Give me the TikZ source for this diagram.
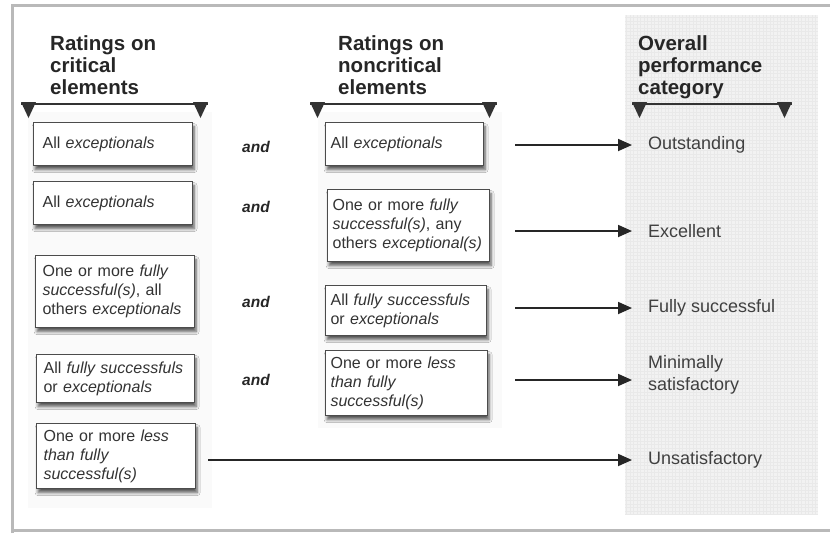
\documentclass[tikz,border=0pt]{standalone}
\usepackage{fontspec}
\setmainfont{Liberation Sans}
\usetikzlibrary{arrows.meta,shadows.blur}
\begin{document}
\begin{tikzpicture}[x=1pt,y=-1pt,
  box/.style={draw=black!70, line width=1.2pt, fill=white, anchor=north west, align=left,
    inner ysep=0pt, font=\fontsize{16}{19}\selectfont, text=black!80,
    blur shadow={shadow xshift=1.5pt, shadow yshift=-4pt, shadow opacity=65, shadow blur steps=6, shadow blur radius=3pt}},
  arr/.style={line width=1.8pt, draw=black!85, -{Triangle[length=14pt,width=12pt]}},
  andlab/.style={font=\fontsize{15.5}{18}\selectfont\bfseries\itshape, text=black!85},
  outlab/.style={anchor=west, inner xsep=16pt, align=left, font=\fontsize{18}{22}\selectfont, text=black!75},
  head/.style={anchor=north west, inner sep=0pt, align=left, font=\fontsize{20.5}{22}\selectfont\bfseries, text=black!85},
  bracket/.style={line width=2pt, draw=black!80},
  tip/.style={fill=black!80}
]
\useasboundingbox (0,0) rectangle (830,533);
% outer frame
\draw[gray!55, line width=3pt] (12,533) -- (12,5.5) -- (830,5.5);
\draw[gray!55, line width=2.5pt] (12,530.5) -- (830,530.5);
% column backgrounds
\fill[gray!4] (28,112) rectangle (212,508);
\fill[gray!4] (318,112) rectangle (502,428);
\fill[gray!10] (625,15) rectangle (818,515);
\draw[gray!17, line width=0.4pt, step=3.5pt] (625,15) grid (818,515);
% headers
\node[head] (h1) at (50,35) {Ratings on\\critical\\elements};
\node[head] (h2) at (338,35) {Ratings on\\noncritical\\elements};
\node[head] (h3) at (638,35) {Overall\\performance\\category};
% brackets
\foreach \xl/\xr in {21/208, 310/497, 632/792}{
  \draw[bracket] (\xl,104) -- (\xr,104);
  \fill[tip] (\xl,102) -- (\xl+15,102) -- (\xl+7.5,118) -- cycle;
  \fill[tip] (\xr-15,102) -- (\xr,102) -- (\xr-7.5,118) -- cycle;
}
% critical boxes
\node[box, inner xsep=9pt, text width=141pt, minimum height=43pt] (c1) at (33,122) {All \textit{exceptionals}};
\node[box, inner xsep=9pt, text width=141pt, minimum height=43pt] (c2) at (33,181) {All \textit{exceptionals}};
\node[box, inner xsep=7pt, text width=145pt, minimum height=72pt] (c3) at (35,255) {One or more \textit{fully}\\\textit{successful(s)}, all\\others \textit{exceptionals}};
\node[box, inner xsep=7pt, text width=144pt, minimum height=48pt] (c4) at (36,354) {All \textit{fully successfuls}\\or \textit{exceptionals}};
\node[box, inner xsep=7pt, text width=145pt, minimum height=65pt] (c5) at (36,423) {One or more \textit{less}\\\textit{than fully}\\\textit{successful(s)}};
% noncritical boxes
\node[box, inner xsep=5pt, text width=148pt, minimum height=43pt] (n1) at (325,122) {All \textit{exceptionals}};
\node[box, inner xsep=5pt, text width=152pt, minimum height=72pt] (n2) at (327,189) {One or more \textit{fully}\\\textit{successful(s)}, any\\others \textit{exceptional(s)}};
\node[box, inner xsep=5pt, text width=151pt, minimum height=50pt] (n3) at (325,285) {All \textit{fully successfuls}\\or \textit{exceptionals}};
\node[box, inner xsep=5pt, text width=152pt, minimum height=65pt] (n4) at (325,350) {One or more \textit{less}\\\textit{than fully}\\\textit{successful(s)}};
% and labels
\node[andlab] (a1) at (256,147) {and};
\node[andlab] (a2) at (256,207) {and};
\node[andlab] (a3) at (256,302) {and};
\node[andlab] (a4) at (256,380) {and};
% outcome labels
\node[outlab] (o1) at (632,145) {Outstanding};
\node[outlab] (o2) at (632,231) {Excellent};
\node[outlab] (o3) at (632,308) {Fully successful};
\node[outlab] (o4) at (632,375) {Minimally\\satisfactory};
\node[outlab] (o5) at (632,460) {Unsatisfactory};
% arrow starts
\coordinate (s1) at (515,145);
\coordinate (s2) at (515,231);
\coordinate (s3) at (515,308);
\coordinate (s4) at (515,380);
\coordinate (s5) at (208,460);
\draw[arr] (s1) -- (o1.west);
\draw[arr] (s2) -- (o2.west);
\draw[arr] (s3) -- (o3.west);
\draw[arr] (s4) -- (s4 -| o4.west);
\draw[arr] (s5) -- (o5.west);
\end{tikzpicture}
\end{document}
